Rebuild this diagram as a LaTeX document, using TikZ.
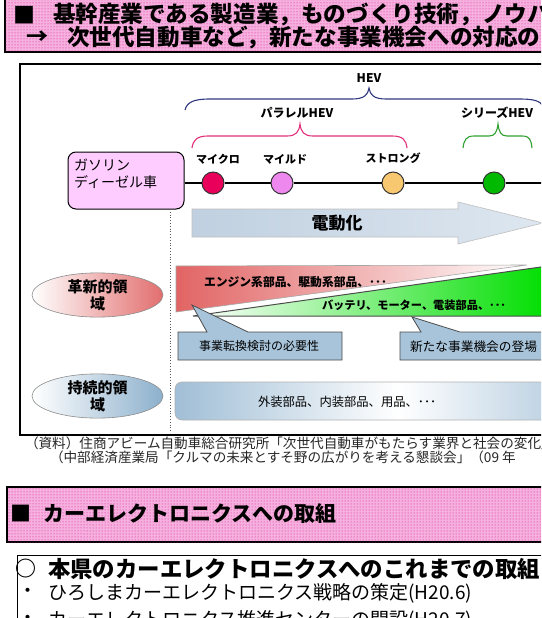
\documentclass[tikz,border=0pt]{standalone}
\usepackage{fontspec}
\setmainfont{Noto Sans CJK JP}
\usetikzlibrary{shapes.geometric,patterns}
\newcommand{\fsz}[1]{\fontsize{#1}{#1}\selectfont}
\definecolor{pinkbg}{RGB}{246,176,222}
\definecolor{pinkdot}{RGB}{214,20,150}
\definecolor{gasfill}{RGB}{255,204,255}
\definecolor{hevblue}{RGB}{48,56,128}
\definecolor{hevpink}{RGB}{226,48,122}
\definecolor{hevgreen}{RGB}{48,160,48}
\definecolor{cred}{RGB}{232,0,90}
\definecolor{cpink}{RGB}{238,136,238}
\definecolor{corange}{RGB}{248,200,112}
\definecolor{cgreen}{RGB}{0,185,0}
\definecolor{arrowA}{RGB}{192,208,224}
\definecolor{arrowB}{RGB}{222,231,240}
\definecolor{wedgered}{RGB}{226,100,100}
\definecolor{wedgegreen}{RGB}{0,222,0}
\definecolor{callblue}{RGB}{168,196,218}
\definecolor{barblue}{RGB}{160,190,214}
\definecolor{ellred}{RGB}{226,110,110}
\definecolor{ellblue}{RGB}{140,176,204}
\begin{document}
\begin{tikzpicture}[x=1pt,y=-1pt,
  txt/.style={inner sep=0pt, outer sep=0pt},
  headbox/.style={draw=black, line width=1.3pt, fill=pinkbg, postaction={pattern=dots, pattern color=pinkdot}},
  dot/.style={circle, draw=black!80, line width=1pt, minimum size=22pt, inner sep=0pt},
  callout/.style={draw=black!70, line width=0.8pt, fill=callblue},
  bracepath/.style={line width=1.1pt},
  ell/.style={ellipse, draw=black!45, line width=0.6pt, minimum width=131pt, minimum height=36pt, inner sep=0pt, align=center, font=\fontsize{15}{17}\selectfont\bfseries},
  lbl/.style={txt, font=\fsz{11}\bfseries},
  hevlbl/.style={txt, font=\fsz{12}\bfseries}
]
\useasboundingbox (0,0) rectangle (541,618);
\clip (0,0) rectangle (541,618);
\fill[white] (0,0) rectangle (541,618);

% ---------- header 1 ----------
\draw[headbox] (5,-5) rectangle (560,52);
\node[txt, font=\fsz{22}\bfseries] (h1sq) at (24,15) {■};
\node[txt, anchor=west, font=\fsz{22.6}\bfseries] (h1a) at (53,15) {基幹産業である製造業，ものづくり技術，ノウハウ};
\node[txt, font=\fsz{22}\bfseries] (h1ar) at (38,38) {→};
\node[txt, anchor=west, font=\fsz{22.6}\bfseries] (h1b) at (67,38) {次世代自動車など，新たな事業機会への対応の};

% ---------- diagram frame ----------
\draw[line width=1.2pt] (20,64) rectangle (560,435);

% HEV braces and labels
\node[hevlbl] (hev) at (369,78) {HEV};
\draw[bracepath, draw=hevblue] (185,110) .. controls (187,102) and (194,99) .. (210,99) -- (352,99) .. controls (364,99) and (368,95) .. (369,88) .. controls (370,95) and (374,99) .. (386,99) -- (520,99) .. controls (534,99) and (540,101) .. (543,106);
\node[hevlbl] (par) at (297,113) {パラレルHEV};
\draw[bracepath, draw=hevpink] (192,148) .. controls (193,140) and (197,136) .. (208,136) -- (287,136) .. controls (296,136) and (299,132) .. (300,124) .. controls (301,132) and (304,136) .. (313,136) -- (392,136) .. controls (403,136) and (406,140) .. (407,148);
\node[hevlbl] (ser) at (497,113) {シリーズHEV};
\draw[bracepath, draw=hevgreen] (463,148) .. controls (464,140) and (466,136) .. (474,136) -- (489,136) .. controls (495,136) and (497,132) .. (498,124) .. controls (499,132) and (501,136) .. (507,136) -- (522,136) .. controls (530,136) and (531,140) .. (532,148);

% gasoline / diesel box
\node[draw=black, line width=1pt, fill=gasfill, rounded corners=8pt, minimum width=116pt, minimum height=57pt] (gas) at (126,180.5) {};
\node[txt, anchor=west, font=\fsz{14}] (gas1) at (74,165) {ガソリン};
\node[txt, anchor=west, font=\fsz{14}] (gas2) at (74,182) {ディーゼル車};

% circles and labels
\node[dot, fill=cred] (c1) at (213,183) {};
\node[dot, fill=cpink] (c2) at (282,183) {};
\node[dot, fill=corange] (c3) at (393,183) {};
\node[dot, fill=cgreen] (c4) at (494,183) {};
\coordinate (lineend) at (560,183);
\draw[line width=1.2pt] (gas.east |- c1) -- (c1);
\draw[line width=1.2pt] (c1) -- (c2);
\draw[line width=1.2pt] (c2) -- (c3);
\draw[line width=1.2pt] (c3) -- (c4);
\draw[line width=1.2pt] (c4) -- (lineend);
\node[lbl] (l1) at (218,159) {マイクロ};
\node[lbl] (l2) at (285,159) {マイルド};
\node[lbl] (l3) at (393,158) {ストロング};

% dotted divider
\coordinate (divtop) at (170,209);
\coordinate (divbot) at (170,433);
\draw[black!65, line width=0.8pt, dotted] (divtop) -- (divbot);

% electrification arrow
\draw[draw=black!25, line width=0.6pt, left color=arrowA, right color=arrowB]
  (192,209) -- (458,209) -- (458,202) -- (543,223) -- (458,244) -- (458,237) -- (192,237) -- cycle;
\node[txt, font=\fsz{17}\bfseries] (den) at (337,223) {電動化};

% ellipses
\node[ell, left color=white, right color=ellred] (inn) at (97.5,295) {革新的領\\域};
\node[ell, left color=white, right color=ellblue] (sus) at (97.5,396) {持続的領\\域};

% wedges
\draw[draw=black!35, line width=0.6pt, left color=wedgered, right color=white]
  (176,266) -- (527,265) -- (176,312) -- cycle;
\draw[draw=black!70, line width=1pt, left color=white, right color=wedgegreen]
  (193,316) -- (548,266) -- (548,316) -- cycle;
\node[txt, anchor=west, font=\fsz{11.8}\bfseries] (eng) at (204,282) {エンジン系部品、駆動系部品、･･･};
\node[txt, anchor=west, font=\fsz{11.2}\bfseries] (bat) at (322,305) {バッテリ、モーター、電装部品、･･･};

% callouts
\draw[callout] (178,332) -- (207,332) -- (192,305) -- (248,332) -- (342,332) -- (342,360) -- (178,360) -- cycle;
\node[txt, font=\fsz{12}] (co1) at (259,346) {事業転換検討の必要性};
\draw[callout] (400,332) -- (421,332) -- (412,317) -- (460,332) -- (560,332) -- (560,360) -- (400,360) -- cycle;
\node[txt, anchor=west, font=\fsz{12.7}] (co2) at (410,347) {新たな事業機会の登場};

% sustaining bar
\draw[draw=black!30, line width=0.6pt, rounded corners=7pt, left color=barblue, right color=barblue, middle color=white]
  (175,382) rectangle (620,420);
\node[txt, anchor=west, font=\fsz{12.3}] (ext) at (258,402) {外装部品、内装部品、用品、･･･};

% ---------- source ----------
\node[txt, anchor=west, font=\fsz{13.6}, text=black!85] (src1) at (25,443) {（資料）住商アビーム自動車総合研究所「次世代自動車がもたらす業界と社会の変化」};
\node[txt, anchor=west, font=\fsz{13.6}, text=black!85] (src2) at (50,457) {（中部経済産業局「クルマの未来とすそ野の広がりを考える懇談会」（09 年};

% ---------- header 2 ----------
\draw[headbox] (7,487) rectangle (560,542);
\node[txt, font=\fsz{21}\bfseries] (h2sq) at (21,513.5) {■};
\node[txt, anchor=west, font=\fsz{21}\bfseries] (h2) at (43,513.5) {カーエレクトロニクスへの取組};

% ---------- box 3 ----------
\draw[line width=1pt] (17,555) rectangle (560,640);
\node[txt, font=\fsz{21}\bfseries] (b3o) at (26,569) {○};
\node[txt, anchor=west, font=\fsz{22.4}\bfseries] (b3h) at (48,569) {本県のカーエレクトロニクスへのこれまでの取組};
\node[txt, font=\fsz{19}] (b3d1) at (28,593) {・};
\node[txt, anchor=west, font=\fsz{19}] (b3l1) at (48,593) {ひろしまカーエレクトロニクス戦略の策定(H20.6)};
\node[txt, font=\fsz{19}] (b3d2) at (28,620) {・};
\node[txt, anchor=west, font=\fsz{19}] (b3l2) at (48,620) {カーエレクトロニクス推進センターの開設(H20.7)};
\end{tikzpicture}
\end{document}
